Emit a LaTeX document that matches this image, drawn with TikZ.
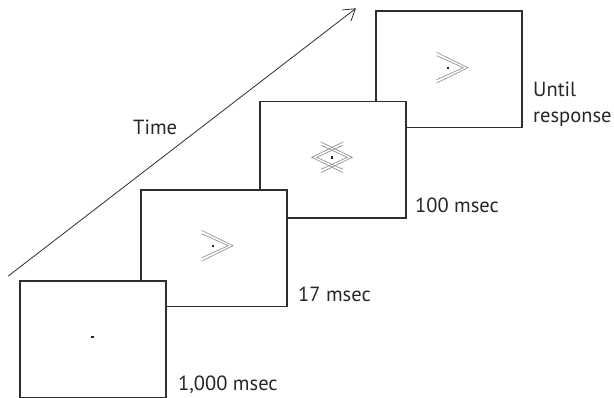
\documentclass[tikz,border=0pt]{standalone}
\usepackage{fontspec}
\setmainfont{PT Sans}
\usetikzlibrary{arrows.meta}
\definecolor{frame}{HTML}{2E2E2E}
\definecolor{stim}{HTML}{888888}
\tikzset{
 screen/.style={draw=frame, line width=1.5pt, fill=white, minimum width=146pt, minimum height=116.7pt, inner sep=0pt, anchor=north west},
 fix/.style={fill=black!85, minimum size=2.4pt, inner sep=0pt},
 lab/.style={anchor=base west, inner sep=0pt, font=\fontsize{20.5}{24}\selectfont, text=black!85},
 chev/.style={draw=stim, line width=0.6pt},
 timearrow/.style={draw=frame, line width=0.8pt, -{Straight Barb[length=11pt,width=14pt]}},
 pics/chevron/.style={code={
   \draw[chev] (-11,-15.3) -- (20.3,0) -- (-11,15.3);
   \draw[chev] (-11,-12) -- (15.5,0) -- (-11,12);
 }}
}
\begin{document}
\begin{tikzpicture}[x=1pt,y=-1pt]
\useasboundingbox (0,0) rectangle (614,397);
\node[screen] (s4) at (375,10) {};
\node[screen] (s3) at (259,100.5) {};
\node[screen] (s2) at (140,189) {};
\node[screen] (s1) at (19.3,280) {};
\node[fix] (f1) at (92.3,336.7) {};
\node[fix] (f2) at (212.7,245.7) {};
\node[fix] (f3) at (332,157.3) {};
\node[fix] (f4) at (447.7,67.7) {};
\pic at (f2) {chevron};
\pic at (f4) {chevron};
\pic at (f3) {chevron};
\pic[xscale=-1] at (f3) {chevron};
\coordinate (t0) at (8.3,276);
\coordinate (t1) at (356,8.3);
\draw[timearrow] (t0) -- (t1);
\node[lab] (time) at (133,134) {Time};
\node[lab] (d1) at (178,390.7) {1,000 msec};
\node[lab] (d2) at (298,301.7) {17 msec};
\node[lab] (d3) at (415,212) {100 msec};
\node[lab] (d4a) at (533,96.5) {Until};
\node[lab] (d4b) at (533,122) {response};
\end{tikzpicture}
\end{document}
